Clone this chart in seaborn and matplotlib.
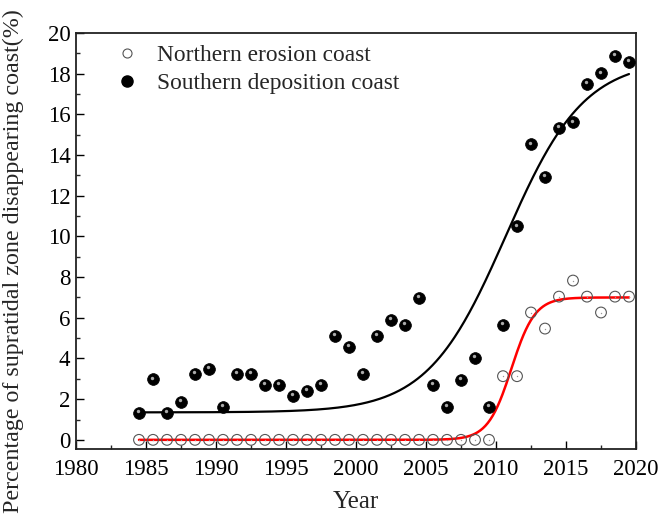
import numpy as np
import pandas as pd
import matplotlib
matplotlib.use("Agg")
import matplotlib.pyplot as plt
import matplotlib.transforms as mtransforms
from matplotlib.lines import Line2D
from matplotlib.ticker import MultipleLocator
import seaborn as sns

# ---------------- data ----------------
years = [1984.5, 1985.5, 1986.5, 1987.5, 1988.5, 1989.5, 1990.5, 1991.5, 1992.5,
         1993.5, 1994.5, 1995.5, 1996.5, 1997.5, 1998.5, 1999.5, 2000.5, 2001.5,
         2002.5, 2003.5, 2004.5, 2005.5, 2006.5, 2007.5, 2008.5, 2009.5, 2010.5,
         2011.5, 2012.5, 2013.5, 2014.5, 2015.5, 2016.5, 2017.5, 2018.5, 2019.5]

northern = [0, 0, 0, 0, 0, 0, 0, 0, 0,
            0, 0, 0, 0, 0, 0, 0, 0, 0,
            0, 0, 0, 0, 0, 0, 0, 0, 3.13,
            3.13, 6.26, 5.47, 7.04, 7.83, 7.04, 6.26, 7.04, 7.04]

southern = [1.34, 2.98, 1.34, 1.88, 3.23, 3.49, 1.62, 3.23, 3.23,
            2.69, 2.69, 2.15, 2.42, 2.69, 5.11, 4.57, 3.23, 5.11,
            5.91, 5.65, 6.99, 2.69, 1.62, 2.96, 4.03, 1.62, 5.65,
            10.50, 14.53, 12.92, 15.33, 15.61, 17.49, 18.02, 18.87, 18.57]

series_names = ["Northern erosion coast", "Southern deposition coast"]

# Boltzmann fit parameters (A1, A2, x0, dx)
north_fit = (0.0, 7.0, 2011.1, 0.84)
south_fit = (1.35, 18.7, 2010.7, 2.8)

x_ticks = [1980, 1985, 1990, 1995, 2000, 2005, 2010, 2015, 2020]
y_ticks = [0, 2, 4, 6, 8, 10, 12, 14, 16, 18, 20]


def boltzmann(x, a1, a2, x0, dx):
    return a2 + (a1 - a2) / (1.0 + np.exp((x - x0) / dx))


df = pd.DataFrame({"Year": years, "North": northern, "South": southern})
xfit = np.linspace(min(years), max(years), 400)
fit_df = pd.DataFrame({
    "Year": xfit,
    "NorthFit": boltzmann(xfit, *north_fit),
    "SouthFit": boltzmann(xfit, *south_fit),
})

# ---------------- style ----------------
sns.set_theme(style="ticks")
plt.rcParams["font.family"] = ["Liberation Serif", "DejaVu Serif"]
plt.rcParams["mathtext.fontset"] = "stix"

fig = plt.figure(figsize=(6.59, 5.19), dpi=100)
ax = fig.add_axes([76 / 659, 1 - 449 / 519, 560 / 659, 416 / 519])

# fitted curves
sns.lineplot(data=fit_df, x="Year", y="SouthFit", ax=ax, color="black",
             linewidth=1.6, zorder=2)
sns.lineplot(data=fit_df, x="Year", y="NorthFit", ax=ax, color="#ff0000",
             linewidth=1.8, zorder=2)

# northern: open circles
sns.scatterplot(data=df, x="Year", y="North", ax=ax, marker="o", s=60,
                facecolor="none", edgecolor="#555555", linewidth=0.8, zorder=3)
ax.scatter(df["Year"], df["North"], s=1.0, color="#999999", zorder=3.5,
           linewidths=0)

# southern: black spheres with a soft highlight
sns.scatterplot(data=df, x="Year", y="South", ax=ax, marker="o", s=72,
                color="black", edgecolor="black", linewidth=0.5, zorder=4)
offset = mtransforms.ScaledTranslation(-1.0 / 72, 1.2 / 72, fig.dpi_scale_trans)
ax.scatter(df["Year"], df["South"], s=6, color="#aaaaaa", linewidths=0,
           zorder=5, transform=ax.transData + offset)

# axes
ax.set_xlim(1980, 2020)
ax.set_ylim(-0.45, 20)
ax.set_xticks(x_ticks)
ax.set_yticks(y_ticks)
ax.xaxis.set_minor_locator(MultipleLocator(2.5))
ax.yaxis.set_minor_locator(MultipleLocator(1))
ax.tick_params(axis="both", which="major", direction="in", length=6, width=1.0,
               labelsize=16.5, colors="black")
ax.tick_params(axis="x", which="major", pad=7)
ax.tick_params(axis="y", which="major", pad=4)
ax.tick_params(axis="both", which="minor", direction="in", length=3, width=1.0)
ax.tick_params(top=False, right=False, which="both")
for sp in ax.spines.values():
    sp.set_visible(True)
    sp.set_linewidth(1.3)
    sp.set_color("#222222")

ax.set_xlabel("Year", fontsize=18, labelpad=8)
ax.set_ylabel("Percentage of supratidal zone disappearing coast(%)", fontsize=17.3)
ax.yaxis.set_label_coords(-0.093, 0.452)

# legend
h1 = Line2D([], [], linestyle="none", marker="o", markersize=6.5,
            markerfacecolor="none", markeredgecolor="#555555", markeredgewidth=0.8)
h2 = Line2D([], [], linestyle="none", marker="o", markersize=8,
            markerfacecolor="black", markeredgecolor="black")
leg = ax.legend([h1, h2], series_names, loc="upper left", frameon=False,
                fontsize=16.8, handletextpad=0.8, handlelength=1.0,
                borderaxespad=0.4, labelspacing=0.28,
                bbox_to_anchor=(0.037, 1.017))

fig.savefig("out.png", dpi=100)
